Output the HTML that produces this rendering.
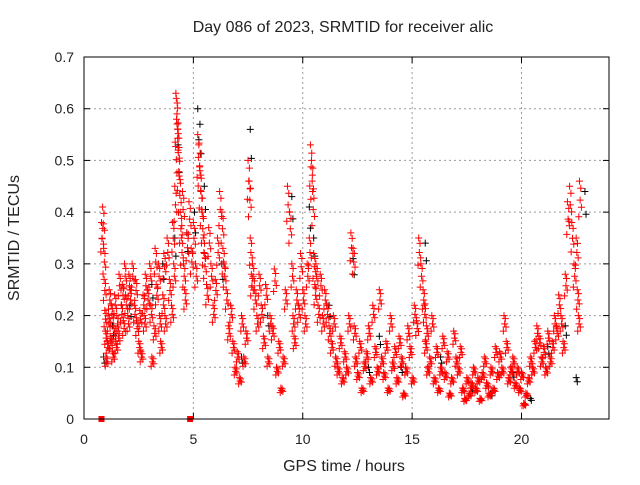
<!DOCTYPE html>
<html><head><meta charset="utf-8"><style>
body{margin:0;background:#fff;font-family:"Liberation Sans",sans-serif}
svg text{font-family:"Liberation Sans",sans-serif;font-size:14px;fill:#222}
svg text.big{font-size:16px}
</style></head><body>
<svg id="chart" width="640" height="480" xmlns="http://www.w3.org/2000/svg">
<rect width="640" height="480" fill="#fff"/>
<text class="big" x="343" y="32" text-anchor="middle">Day 086 of 2023, SRMTID for receiver alic</text>
<text class="big" x="344" y="471" text-anchor="middle">GPS time / hours</text>
<text class="big" transform="translate(19,238) rotate(-90)" text-anchor="middle">SRMTID / TECUs</text>
<g id="grid"></g><g id="ticks"></g><g id="blk"></g><g id="red"></g>
<rect x="84" y="57" width="525" height="362" fill="none" stroke="#000" stroke-width="1"/>
</svg>
<script>
const xTicks=[0,5,10,15,20];
const yTicks=[0,0.1,0.2,0.3,0.4,0.5,0.6,0.7];
const redT=[0.8,0.85,0.9,0.92,0.95,0.98,1.0,1.05,1.1,1.15,1.2,1.25,1.3,1.35,1.4,1.45,1.5,1.55,1.6,1.7,1.75,1.8,1.85,1.9,2.0,2.05,2.1,2.2,2.3,2.35,2.4,2.5,2.55,2.6,2.7,2.75,2.8,2.9,3.0,3.05,3.1,3.2,3.25,3.3,3.4,3.45,3.5,3.6,3.65,3.7,3.8,3.9,4.0,4.05,4.1,4.15,4.2,4.22,4.25,4.28,4.3,4.35,4.4,4.45,4.5,4.55,4.6,4.7,4.8,4.9,5.0,5.1,5.2,5.25,5.3,5.35,5.4,5.45,5.5,5.6,5.7,5.8,5.9,6.0,6.1,6.2,6.3,6.35,6.4,6.5,6.6,6.7,6.8,6.9,7.0,7.1,7.2,7.3,7.4,7.5,7.55,7.6,7.65,7.7,7.8,7.9,8.0,8.1,8.2,8.3,8.4,8.5,8.6,8.7,8.8,8.9,9.0,9.1,9.2,9.3,9.4,9.5,9.55,9.6,9.7,9.8,9.9,10.0,10.1,10.2,10.3,10.35,10.4,10.45,10.5,10.55,10.6,10.7,10.8,10.9,11.0,11.1,11.2,11.3,11.4,11.5,11.6,11.7,11.8,11.9,12.0,12.1,12.2,12.3,12.35,12.4,12.5,12.6,12.7,12.8,12.9,13.0,13.1,13.2,13.3,13.4,13.5,13.6,13.7,13.8,13.9,14.0,14.1,14.2,14.3,14.4,14.5,14.6,14.7,14.8,14.9,15.0,15.1,15.2,15.3,15.4,15.5,15.55,15.6,15.65,15.7,15.8,15.9,16.0,16.1,16.2,16.3,16.4,16.5,16.6,16.7,16.8,16.9,17.0,17.1,17.2,17.3,17.4,17.5,17.6,17.7,17.8,17.9,18.0,18.1,18.2,18.3,18.4,18.5,18.6,18.7,18.8,18.9,19.0,19.1,19.2,19.3,19.4,19.5,19.6,19.7,19.8,19.9,20.0,20.1,20.2,20.3,20.4,20.5,20.6,20.7,20.8,20.9,21.0,21.1,21.2,21.3,21.4,21.5,21.6,21.7,21.8,21.9,22.0,22.1,22.2,22.3,22.4,22.5,22.55,22.6,22.65,22.7,22.75,22.8,22.85,22.9];
const redV=[0.38,0.41,0.33,0.27,0.21,0.17,0.12,0.15,0.2,0.25,0.16,0.22,0.13,0.18,0.24,0.15,0.2,0.17,0.28,0.22,0.26,0.19,0.3,0.24,0.2,0.28,0.25,0.3,0.22,0.27,0.19,0.15,0.21,0.13,0.24,0.2,0.28,0.25,0.3,0.22,0.12,0.18,0.33,0.26,0.3,0.2,0.15,0.24,0.32,0.2,0.35,0.27,0.22,0.38,0.3,0.45,0.63,0.62,0.59,0.56,0.52,0.47,0.4,0.35,0.44,0.3,0.25,0.36,0.42,0.33,0.38,0.3,0.55,0.53,0.48,0.44,0.4,0.35,0.32,0.26,0.37,0.3,0.22,0.27,0.35,0.44,0.4,0.33,0.3,0.25,0.18,0.22,0.15,0.1,0.13,0.08,0.2,0.12,0.17,0.5,0.46,0.35,0.28,0.3,0.25,0.2,0.28,0.22,0.16,0.26,0.12,0.2,0.18,0.29,0.1,0.15,0.06,0.12,0.25,0.45,0.4,0.3,0.2,0.16,0.25,0.22,0.32,0.25,0.2,0.3,0.35,0.53,0.5,0.44,0.32,0.26,0.3,0.22,0.28,0.2,0.25,0.22,0.18,0.15,0.2,0.12,0.1,0.16,0.08,0.13,0.1,0.2,0.36,0.33,0.18,0.12,0.09,0.15,0.06,0.11,0.13,0.18,0.08,0.22,0.14,0.1,0.25,0.12,0.09,0.15,0.06,0.2,0.11,0.14,0.08,0.16,0.12,0.05,0.1,0.18,0.14,0.08,0.22,0.19,0.35,0.3,0.25,0.22,0.15,0.18,0.1,0.12,0.2,0.08,0.14,0.06,0.1,0.16,0.09,0.13,0.05,0.08,0.17,0.12,0.1,0.14,0.06,0.04,0.08,0.05,0.07,0.1,0.06,0.08,0.04,0.09,0.12,0.07,0.05,0.1,0.06,0.14,0.09,0.13,0.1,0.2,0.15,0.08,0.1,0.12,0.07,0.1,0.06,0.09,0.03,0.05,0.08,0.12,0.1,0.15,0.18,0.16,0.12,0.14,0.1,0.17,0.12,0.15,0.2,0.18,0.24,0.2,0.15,0.28,0.42,0.45,0.38,0.3,0.35,0.25,0.2,0.46];
const blkT=[0.9,1.3,2.1,3.1,3.6,4.15,4.3,4.7,5.05,5.2,5.3,5.5,6.3,7.2,7.6,8.4,9.5,10.3,10.5,11.2,12.3,13.0,13.5,14.5,15.6,16.3,17.7,18.6,19.6,20.4,21.2,22.0,22.5,22.9];
const blkV=[0.12,0.18,0.22,0.26,0.3,0.35,0.53,0.36,0.4,0.6,0.57,0.45,0.3,0.12,0.56,0.2,0.43,0.41,0.35,0.22,0.31,0.1,0.16,0.1,0.34,0.12,0.06,0.05,0.09,0.04,0.14,0.18,0.08,0.44];
const sqT=[0.8,4.85];
const sqV=[0,0];
const X0=84,X1=609,Y0=419,Y1=57;
const xs=t=>X0+(t/24)*(X1-X0);
const ys=v=>Y0-(v/0.7)*(Y0-Y1);
const NS="http://www.w3.org/2000/svg";
function mk(tag,attrs,parent){const e=document.createElementNS(NS,tag);for(const k in attrs)e.setAttribute(k,attrs[k]);document.getElementById(parent).appendChild(e);return e;}
xTicks.forEach(t=>{const x=xs(t);
 if(t>0){const g=mk('line',{x1:x,x2:x,y1:Y1,y2:Y0,stroke:'#999','stroke-dasharray':'2,3'},'grid');
 
 }
 const tx=mk('text',{x:x,y:Y0+25,'text-anchor':'middle'},'ticks');tx.textContent=t;
 
 
 mk('line',{x1:x,x2:x,y1:Y0,y2:Y0-6,stroke:'#000'},'ticks');mk('line',{x1:x,x2:x,y1:Y1,y2:Y1+6,stroke:'#000'},'ticks');});
yTicks.forEach(v=>{const y=ys(v);
 if(v>0&&v<0.7){const g=mk('line',{x1:X0,x2:X1,y1:y,y2:y,stroke:'#999','stroke-dasharray':'2,3'},'grid');
 
 }
 const tx=mk('text',{x:X0-10,y:y+5,'text-anchor':'end'},'ticks');tx.textContent=v===0?'0':v.toFixed(1);
 
 
 mk('line',{x1:X0,x2:X0+6,y1:y,y2:y,stroke:'#000'},'ticks');mk('line',{x1:X1,x2:X1-6,y1:y,y2:y,stroke:'#000'},'ticks');});
function plus(t,v,col,g,name){const x=xs(t),y=ys(v);
 const p=mk('path',{d:`M${x-3.5},${y}h7M${x},${y-3.5}v7`,stroke:col,'stroke-width':1,fill:'none'},g);
 
 }
const copyDt=[0,0.03,0.06,-0.03,0.09];
const copyK=[1,0.92,0.97,0.85,0.89];
blkT.forEach((t,i)=>{plus(t,blkV[i],'#000','blk','black-point');plus(t+0.05,blkV[i]*0.9,'#000','blk','black-point');});
redT.forEach((t,i)=>{copyDt.forEach((d,j)=>plus(t+d,redV[i]*copyK[j],'#f00','red','red-point'));});
sqT.forEach((t,i)=>{const r=mk('rect',{x:xs(t)-3,y:ys(sqV[i])-3,width:6,height:6,fill:'#f00'},'red');
 
 });
</script>
</body></html>
